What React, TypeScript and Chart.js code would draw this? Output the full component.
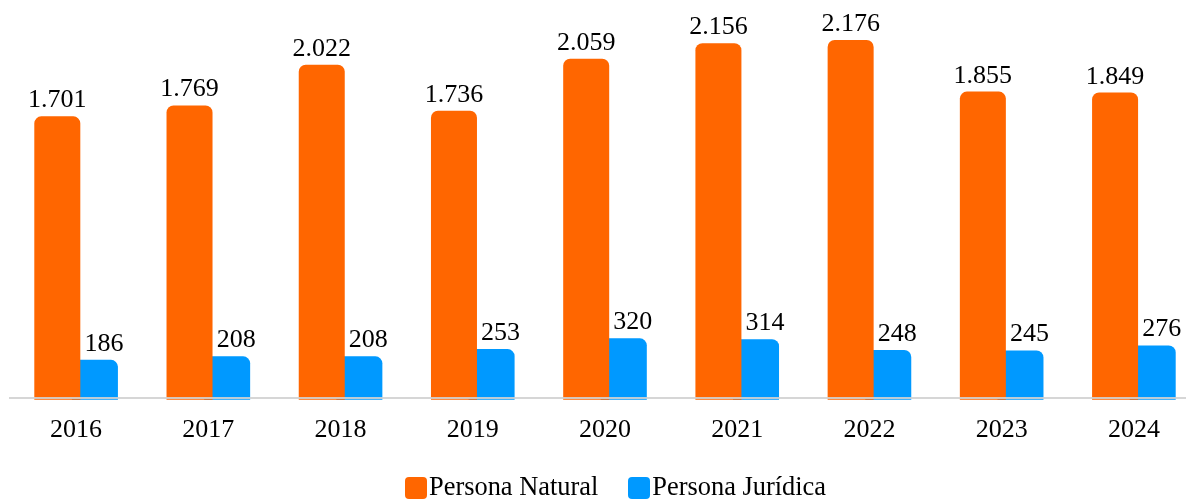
import React, { useEffect, useRef } from "react";
import { Chart, registerables } from "chart.js";

Chart.register(...registerables);

const YEARS = ["2016", "2017", "2018", "2019", "2020", "2021", "2022", "2023", "2024"];
const PERSONA_NATURAL = [1701, 1769, 2022, 1736, 2059, 2156, 2176, 1855, 1849];
const PERSONA_JURIDICA = [186, 208, 208, 253, 320, 314, 248, 245, 276];
const SERIES_NAMES = ["Persona Natural", "Persona Jurídica"];
const SERIES_COLORS = ["#FF6600", "#0099FF"];

const Y_MIN = -50;
const Y_MAX = 2400;
const BAR_BASE = -62;

const FONT_FAMILY = "'Liberation Serif', 'Times New Roman', serif";

function fmt(v: number): string {
  return String(v).replace(/\B(?=(\d{3})+(?!\d))/g, ".");
}

const dataLabels = {
  id: "dataLabels",
  afterDatasetsDraw(chart: any) {
    const ctx = chart.ctx;
    ctx.save();
    ctx.font = `26px ${FONT_FAMILY}`;
    ctx.fillStyle = "#000";
    ctx.textAlign = "center";
    ctx.textBaseline = "alphabetic";
    chart.data.datasets.forEach((ds: any, i: number) => {
      const meta = chart.getDatasetMeta(i);
      const dx = i === 1 ? 9 : 0;
      meta.data.forEach((el: any, j: number) => {
        ctx.fillText(fmt(ds.data[j]), el.x + dx, el.y - 9);
      });
    });
    ctx.restore();
  },
};

export default function App() {
  const ref = useRef<HTMLCanvasElement | null>(null);

  useEffect(() => {
    if (!ref.current) return;
    const radius = { topLeft: 7, topRight: 7, bottomLeft: 0, bottomRight: 0 };
    const chart = new Chart(ref.current, {
      type: "bar",
      data: {
        labels: YEARS,
        datasets: [
          {
            label: SERIES_NAMES[0],
            data: PERSONA_NATURAL,
            backgroundColor: SERIES_COLORS[0],
            base: BAR_BASE,
            borderRadius: radius,
            borderSkipped: "start",
            clip: false,
          } as any,
          {
            label: SERIES_NAMES[1],
            data: PERSONA_JURIDICA,
            backgroundColor: SERIES_COLORS[1],
            base: BAR_BASE,
            borderRadius: radius,
            borderSkipped: "start",
            clip: false,
          } as any,
        ],
      },
      options: {
        animation: false,
        responsive: false,
        devicePixelRatio: 1,
        layout: { padding: { top: 4, left: 10, right: 0, bottom: 36 } },
        datasets: {
          bar: { categoryPercentage: 0.569, barPercentage: 1.223 },
        } as any,
        plugins: {
          legend: { display: false },
          tooltip: { enabled: false },
        },
        scales: {
          x: {
            grid: { display: false, drawTicks: false },
            border: { display: true, color: "rgba(210,210,210,0.9)", width: 2, z: 1 } as any,
            ticks: {
              color: "#000",
              padding: 17,
              font: { family: FONT_FAMILY, size: 26 },
              maxRotation: 0,
            },
          },
          y: {
            display: false,
            min: Y_MIN,
            max: Y_MAX,
          },
        },
      },
      plugins: [dataLabels],
    });
    return () => chart.destroy();
  }, []);

  return (
    <div
      style={{
        position: "fixed",
        left: 0,
        top: 0,
        width: 1186,
        height: 499,
        overflow: "hidden",
        background: "#fff",
      }}
    >
      <canvas ref={ref} width={1200} height={499} style={{ display: "block" }} />
      <div
        style={{
          position: "absolute",
          left: 405,
          top: 473,
          display: "flex",
          alignItems: "flex-start",
          fontFamily: FONT_FAMILY,
          fontSize: 26.4,
          lineHeight: "26px",
          color: "#000",
          whiteSpace: "nowrap",
        }}
      >
        {SERIES_NAMES.map((name, i) => (
          <div
            key={name}
            style={{ display: "flex", alignItems: "flex-start", marginRight: i === 0 ? 30 : 0 }}
          >
            <span
              style={{
                display: "inline-block",
                width: 22,
                height: 22,
                background: SERIES_COLORS[i],
                borderRadius: 4,
                marginTop: 4,
                marginRight: 2,
              }}
            />
            <span>{name}</span>
          </div>
        ))}
      </div>
    </div>
  );
}
